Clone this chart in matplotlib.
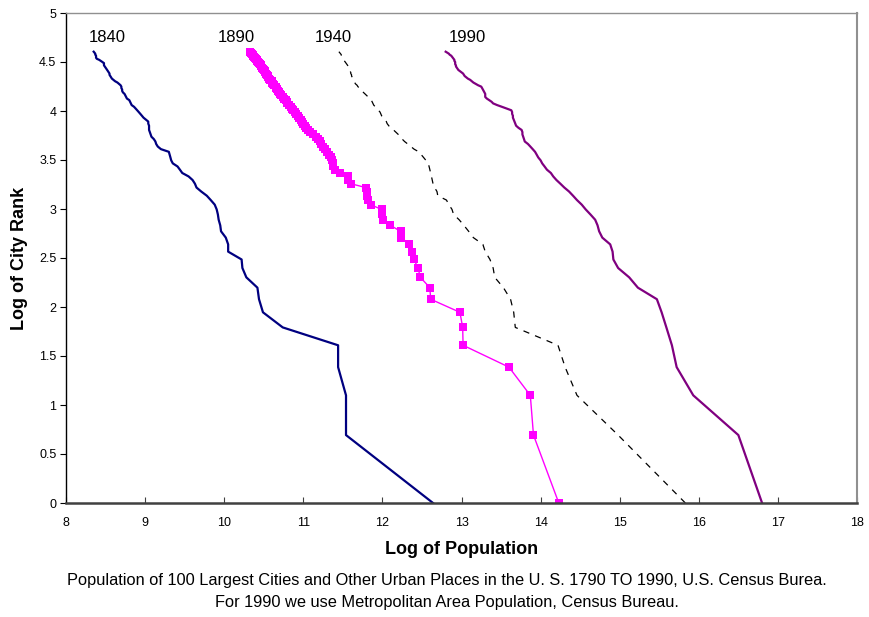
import numpy as np
import matplotlib
matplotlib.use("Agg")
import matplotlib.pyplot as plt

plt.rcParams['font.family'] = ['Liberation Sans', 'DejaVu Sans']

# City rank 1..100 (y = log of rank)
ranks = list(range(1, 101))

# Log of population for each rank, per census year
x_1840 = [12.64, 11.54, 11.54, 11.44, 11.44, 10.74, 10.49, 10.44, 10.42, 10.28,
          10.23, 10.22, 10.05, 10.05, 10.02, 9.96, 9.95, 9.93, 9.92, 9.905,
          9.88, 9.83, 9.78, 9.71, 9.65, 9.63, 9.60, 9.55, 9.47, 9.44,
          9.41, 9.35, 9.33, 9.32, 9.31, 9.30, 9.20, 9.16, 9.14, 9.13,
          9.11, 9.08, 9.07, 9.06, 9.05, 9.05, 9.05, 9.04, 9.04, 9.01,
          8.98, 8.96, 8.94, 8.92, 8.90, 8.88, 8.86, 8.83, 8.82, 8.81,
          8.80, 8.77, 8.76, 8.75, 8.74, 8.72, 8.71, 8.71, 8.70, 8.70,
          8.69, 8.67, 8.65, 8.62, 8.60, 8.58, 8.57, 8.56, 8.55, 8.55,
          8.54, 8.53, 8.52, 8.51, 8.50, 8.49, 8.48, 8.48, 8.48, 8.46,
          8.44, 8.42, 8.39, 8.38, 8.38, 8.38, 8.37, 8.37, 8.36, 8.35]

x_1890 = [14.23, 13.91, 13.87, 13.60, 13.02, 13.015, 12.98, 12.61, 12.60, 12.48,
          12.45, 12.40, 12.38, 12.34, 12.24, 12.23, 12.10, 12.01, 12.00, 11.99,
          11.85, 11.82, 11.81, 11.80, 11.79, 11.60, 11.57, 11.57, 11.46, 11.40,
          11.38, 11.37, 11.36, 11.35, 11.32, 11.30, 11.27, 11.25, 11.23, 11.21,
          11.19, 11.16, 11.12, 11.08, 11.06, 11.04, 11.02, 11.00, 10.98, 10.97,
          10.95, 10.93, 10.91, 10.89, 10.87, 10.86, 10.84, 10.82, 10.80, 10.79,
          10.78, 10.76, 10.74, 10.72, 10.70, 10.69, 10.68, 10.67, 10.66, 10.65,
          10.63, 10.62, 10.61, 10.60, 10.58, 10.57, 10.56, 10.55, 10.54, 10.53,
          10.52, 10.51, 10.50, 10.49, 10.48, 10.47, 10.46, 10.45, 10.44, 10.43,
          10.42, 10.41, 10.40, 10.39, 10.38, 10.37, 10.36, 10.35, 10.34, 10.33]

x_1940 = [15.83, 14.98, 14.46, 14.31, 14.22, 13.68, 13.66, 13.62, 13.53, 13.42,
          13.40, 13.36, 13.30, 13.27, 13.15, 13.09, 13.03, 12.97, 12.90, 12.88,
          12.84, 12.81, 12.70, 12.69, 12.66, 12.64, 12.63, 12.62, 12.61, 12.60,
          12.59, 12.58, 12.55, 12.52, 12.49, 12.46, 12.40, 12.36, 12.32, 12.28,
          12.25, 12.22, 12.20, 12.17, 12.14, 12.10, 12.08, 12.06, 12.05, 12.03,
          12.01, 11.99, 11.98, 11.97, 11.95, 11.93, 11.91, 11.89, 11.88, 11.87,
          11.86, 11.84, 11.82, 11.80, 11.78, 11.76, 11.74, 11.73, 11.71, 11.69,
          11.68, 11.66, 11.65, 11.64, 11.63, 11.62, 11.62, 11.61, 11.61, 11.60,
          11.60, 11.59, 11.59, 11.58, 11.57, 11.57, 11.56, 11.55, 11.54, 11.53,
          11.52, 11.51, 11.50, 11.50, 11.49, 11.48, 11.48, 11.47, 11.46, 11.45]

x_1990 = [16.80, 16.50, 15.93, 15.72, 15.66, 15.59, 15.53, 15.47, 15.23, 15.12,
          14.98, 14.92, 14.91, 14.88, 14.78, 14.74, 14.72, 14.69, 14.63, 14.57,
          14.52, 14.46, 14.41, 14.36, 14.30, 14.25, 14.20, 14.16, 14.13, 14.08,
          14.05, 14.02, 14.00, 13.97, 13.95, 13.93, 13.90, 13.87, 13.84, 13.80,
          13.79, 13.78, 13.77, 13.77, 13.76, 13.72, 13.69, 13.68, 13.67, 13.66,
          13.65, 13.65, 13.64, 13.64, 13.63, 13.57, 13.51, 13.45, 13.40, 13.38,
          13.35, 13.32, 13.30, 13.30, 13.30, 13.29, 13.28, 13.27, 13.26, 13.25,
          13.21, 13.18, 13.15, 13.13, 13.11, 13.08, 13.06, 13.04, 13.03, 13.02,
          13.00, 12.98, 12.96, 12.95, 12.94, 12.93, 12.93, 12.92, 12.92, 12.92,
          12.91, 12.91, 12.90, 12.89, 12.88, 12.87, 12.85, 12.84, 12.82, 12.80]

years = ["1840", "1890", "1940", "1990"]
label_x = [8.52, 10.15, 11.38, 13.07]
label_y = 4.745

x_ticks = [8, 9, 10, 11, 12, 13, 14, 15, 16, 17, 18]
y_ticks = [0, 0.5, 1, 1.5, 2, 2.5, 3, 3.5, 4, 4.5, 5]
y_ticklabels = ["0", "0.5", "1", "1.5", "2", "2.5", "3", "3.5", "4", "4.5", "5"]

caption = ("Population of 100 Largest Cities and Other Urban Places in the U. S. 1790 TO 1990, U.S. Census Burea.\n"
           "For 1990 we use Metropolitan Area Population, Census Bureau.")

y = np.log(ranks)

fig = plt.figure(figsize=(8.69, 6.17), dpi=100)
ax = fig.add_axes([66/869, 1-503/617, (857-66)/869, (503-13)/617])

ax.plot(x_1840, y, color='#000080', lw=1.6)
ax.plot(x_1890, y, color='#FF00FF', lw=1.0, marker='s', markersize=6,
        markeredgewidth=0)
ax.plot(x_1940, y, color='black', lw=0.9, linestyle=(0, (5, 5)))
ax.plot(x_1990, y, color='#800080', lw=1.6)

for t, lx in zip(years, label_x):
    ax.text(lx, label_y, t, fontsize=12, ha='center', va='center', color='black')

ax.set_xlim(8, 18)
ax.set_ylim(0, 5)
ax.set_xticks(x_ticks)
ax.set_yticks(y_ticks)
ax.set_yticklabels(y_ticklabels)
ax.tick_params(axis='x', direction='in', length=4, labelsize=9, pad=10, color='#404040')
ax.tick_params(axis='y', direction='out', length=4, labelsize=9, pad=3, color='black')

for s in ['top', 'right']:
    ax.spines[s].set_color('#909090')
ax.spines['top'].set_linewidth(1.0)
ax.spines['right'].set_linewidth(1.5)
ax.spines['left'].set_color('black')
ax.spines['left'].set_linewidth(1.0)
ax.spines['bottom'].set_color('#404040')
ax.spines['bottom'].set_linewidth(1.8)

ax.set_xlabel("Log of Population", fontsize=13, fontweight='bold', labelpad=9)
ax.set_ylabel("Log of City Rank", fontsize=13, fontweight='bold', labelpad=8)

fig.text(447/869, 1 - 591.5/617, caption, ha='center', va='center',
         fontsize=11.8, linespacing=1.55)

fig.savefig("out.png", dpi=100)
